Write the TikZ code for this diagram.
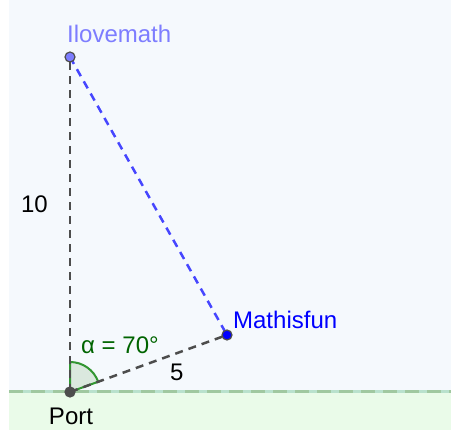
\documentclass[tikz,border=0pt]{standalone}
\usepackage{fontspec}
\setmainfont{Liberation Sans}
\usetikzlibrary{positioning}

\definecolor{skyback}{RGB}{245,249,253}
\definecolor{groundback}{RGB}{234,251,233}
\definecolor{shoreline}{RGB}{185,225,205}
\definecolor{shoredash}{RGB}{160,200,160}
\definecolor{segdark}{RGB}{77,77,77}
\definecolor{segblue}{RGB}{70,70,255}
\definecolor{lilac}{RGB}{125,125,255}
\definecolor{anglegreen}{RGB}{0,100,0}
\definecolor{sectorfill}{RGB}{218,232,222}
\definecolor{sectoredge}{RGB}{50,150,50}

\begin{document}
\begin{tikzpicture}[x=1pt, y=1pt,
  seg/.style={dash pattern=on 8pt off 6pt, line width=2.5pt},
  pt/.style={circle, draw=segdark, line width=1.2pt, inner sep=0pt, minimum size=10pt},
  lbl/.style={font=\fontsize{24}{28}\selectfont, inner sep=0pt}]

\useasboundingbox (0,0) rectangle (451,430);
% background
\fill[skyback] (9,38) rectangle (451,430);
\fill[groundback] (9,0) rectangle (451,38);
\draw[shoreline, line width=3pt] (9,38) -- (451,38);
\draw[shoredash, line width=3pt, dash pattern=on 14pt off 8pt] (9,38) -- (451,38);

% points
\coordinate (P) at (70,38);
\coordinate (I) at (70,373);
\coordinate (M) at (227,95);

% angle
\filldraw[fill=sectorfill, draw=sectoredge, line width=2pt]
  (P) -- ++(20:30) arc (20:90:30) -- cycle;

\draw[seg, segdark] (P) -- node[lbl, pos=0.56, left=21pt, black] (ten) {10} (I);
\draw[seg, segdark] (P) -- node[lbl, pos=0.68, below=10pt, black] (five) {5} (M);
\draw[seg, segblue] (I) -- (M);

\node[pt, fill=segdark] (port) at (P) {};
\node[pt, fill=lilac] (love) at (I) {};
\node[pt, fill=blue] (fun) at (M) {};

\node[lbl, below=10pt of port, xshift=1pt] (portlbl) {Port};
\node[lbl, lilac, above right=10pt and -7pt of love] (lovelbl) {Ilovemath};
\node[lbl, blue, above right=2pt and 2pt of fun] (funlbl) {Mathisfun};
\node[lbl, anglegreen, anchor=west] (alpha) at (81,85) {α = 70°};

\end{tikzpicture}
\end{document}
